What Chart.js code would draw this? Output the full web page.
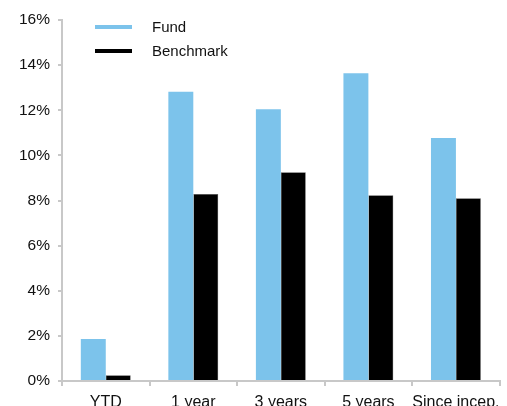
<!DOCTYPE html>
<html>
<head>
<meta charset="utf-8">
<script src="https://cdn.jsdelivr.net/npm/chart.js@4"></script>
<style>
  html, body { margin: 0; padding: 0; background: #fff; }
  #wrap { width: 507px; height: 406px; }
</style>
</head>
<body>
<div id="wrap"><canvas id="out"></canvas></div>
<script>
const categories = ["YTD", "1 year", "3 years", "5 years", "Since incep."];
const fundValues = [1.86, 12.82, 12.04, 13.64, 10.77];
const benchmarkValues = [0.25, 8.29, 9.25, 8.23, 8.10];
const yTicks = [0, 2, 4, 6, 8, 10, 12, 14, 16];

const axisColor = "#c8c8c8";
const fontFamily = "'Liberation Sans', Arial, sans-serif";

// legend drawn as short thick lines inside the plot, top left
const lineLegend = {
    id: "lineLegend",
    afterDraw(chart) {
        const ctx = chart.ctx;
        const items = chart.data.datasets;
        ctx.save();
        ctx.font = "15px " + fontFamily;
        ctx.textBaseline = "middle";
        for (let i = 0; i < items.length; i++) {
            const y = 27 + i * 24;
            ctx.fillStyle = items[i].backgroundColor;
            ctx.fillRect(95, y - 2, 37, 4);
            ctx.fillStyle = "#111";
            ctx.fillText(items[i].label, 152, y + 1);
        }
        ctx.restore();
    }
};

const chartConfig = {
    type: "bar",
    data: {
        labels: categories,
        datasets: [
            {
                label: "Fund",
                backgroundColor: "#7cc3eb",
                data: fundValues
            },
            {
                label: "Benchmark",
                backgroundColor: "#000000",
                borderColor: "#555",
                borderWidth: 0.5,
                data: benchmarkValues
            }
        ]
    },
    options: {
        responsive: true,
        maintainAspectRatio: false,
        animation: false,
        layout: { padding: { top: 20, right: 5, left: 0, bottom: 0 } },
        plugins: {
            legend: { display: false },
            tooltip: { enabled: false }
        },
        datasets: {
            bar: { categoryPercentage: 0.57, barPercentage: 1.0 }
        },
        scales: {
            x: {
                grid: { drawOnChartArea: false, drawTicks: true, tickLength: 5, color: axisColor, lineWidth: 2 },
                border: { color: axisColor, width: 2 },
                ticks: {
                    color: "#111",
                    font: { family: fontFamily, size: 16 },
                    padding: 7,
                    maxRotation: 0,
                    autoSkip: false
                },
                afterFit(scale) { scale.height = 25; }
            },
            y: {
                min: 0,
                max: 16,
                afterBuildTicks(scale) {
                    scale.ticks = yTicks.map(v => ({ value: v }));
                },
                grid: { drawOnChartArea: false, drawTicks: true, tickLength: 4, color: axisColor, lineWidth: 2 },
                border: { color: axisColor, width: 2 },
                ticks: {
                    color: "#111",
                    font: { family: fontFamily, size: 15.5 },
                    padding: 8,
                    callback: v => v + "%"
                },
                afterFit(scale) { scale.width = 62; }
            }
        }
    },
    plugins: [lineLegend]
};

new Chart(document.getElementById("out").getContext("2d"), chartConfig);
</script>
</body>
</html>
